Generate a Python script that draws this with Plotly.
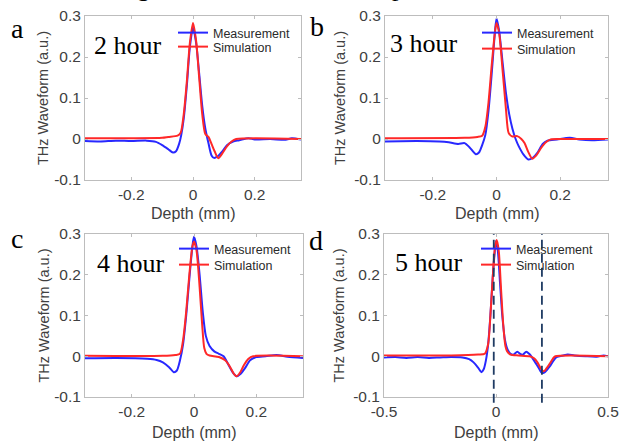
import plotly.graph_objects as go

# ---------------- data ----------------
a_meas_x = [-0.35, -0.30, -0.25, -0.20, -0.15, -0.12, -0.10, -0.08, -0.065, -0.055, -0.045, -0.038, -0.03, -0.02, -0.01, 0.0,
            0.01, 0.02, 0.03, 0.04, 0.05, 0.06, 0.068, 0.08, 0.095, 0.11, 0.13, 0.15, 0.18, 0.20, 0.25, 0.30, 0.32, 0.35]
a_meas_y = [-0.005, -0.006, -0.004, -0.005, -0.004, -0.007, -0.015, -0.025, -0.033, -0.030, -0.012, 0.010, 0.050, 0.130, 0.225, 0.272,
            0.235, 0.160, 0.080, 0.025, -0.010, -0.040, -0.046, -0.042, -0.030, -0.015, -0.006, -0.003, 0.002, -0.001, 0.000, -0.002, 0.002, -0.001]
a_sim_x = [-0.35, -0.20, -0.10, -0.08, -0.05, -0.04, -0.03, -0.02, -0.01, 0.0, 0.01, 0.02, 0.03, 0.04, 0.05, 0.06, 0.07,
           0.082, 0.095, 0.11, 0.125, 0.14, 0.35]
a_sim_y = [0.002, 0.002, 0.003, 0.005, 0.008, 0.015, 0.060, 0.140, 0.235, 0.283, 0.240, 0.150, 0.060, 0.012, 0.005, -0.012, -0.030,
           -0.047, -0.035, -0.018, -0.006, 0.000, 0.000]

b_meas_x = [-0.35, -0.25, -0.18, -0.15, -0.12, -0.10, -0.085, -0.065, -0.055, -0.045, -0.035, -0.025, -0.015, -0.005, 0.0,
            0.008, 0.02, 0.03, 0.04, 0.05, 0.06, 0.07, 0.085, 0.10, 0.115, 0.13, 0.145, 0.16, 0.19, 0.23, 0.26, 0.30, 0.35]
b_meas_y = [-0.006, -0.005, -0.006, -0.008, -0.012, -0.010, -0.020, -0.037, -0.033, -0.015, 0.010, 0.070, 0.160, 0.260, 0.294,
            0.265, 0.180, 0.110, 0.060, 0.025, 0.000, -0.018, -0.038, -0.050, -0.045, -0.032, -0.012, -0.004, -0.001, 0.003, -0.001, -0.003, -0.001]
b_sim_x = [-0.35, -0.10, -0.06, -0.045, -0.035, -0.025, -0.015, -0.005, 0.0, 0.008, 0.02, 0.03, 0.038, 0.05, 0.065, 0.078,
           0.088, 0.10, 0.112, 0.125, 0.14, 0.155, 0.17, 0.20, 0.35]
b_sim_y = [0.002, 0.003, 0.005, 0.008, 0.030, 0.090, 0.180, 0.260, 0.283, 0.260, 0.160, 0.070, 0.015, 0.006, 0.007, 0.000,
           -0.010, -0.032, -0.048, -0.040, -0.022, -0.008, -0.001, 0.000, 0.000]

c_meas_x = [-0.35, -0.25, -0.15, -0.12, -0.10, -0.08, -0.065, -0.055, -0.045, -0.035, -0.025, -0.015, -0.005, 0.0, 0.008,
            0.018, 0.028, 0.038, 0.05, 0.065, 0.08, 0.095, 0.11, 0.125, 0.137, 0.15, 0.165, 0.18, 0.20, 0.23, 0.265, 0.30, 0.35]
c_meas_y = [-0.005, -0.004, -0.006, -0.009, -0.015, -0.027, -0.039, -0.035, -0.010, 0.030, 0.100, 0.190, 0.270, 0.293, 0.270,
            0.200, 0.110, 0.050, 0.025, 0.012, 0.006, 0.000, -0.020, -0.040, -0.049, -0.043, -0.028, -0.010, -0.002, 0.000, 0.003, -0.001, -0.004]
c_sim_x = [-0.35, -0.10, -0.06, -0.045, -0.035, -0.025, -0.015, -0.005, 0.0, 0.008, 0.018, 0.026, 0.033, 0.04, 0.05, 0.08,
           0.10, 0.115, 0.128, 0.137, 0.148, 0.16, 0.175, 0.19, 0.35]
c_sim_y = [0.001, 0.001, 0.003, 0.006, 0.040, 0.110, 0.200, 0.270, 0.281, 0.260, 0.170, 0.080, 0.020, 0.006, 0.002, -0.002,
           -0.010, -0.025, -0.043, -0.049, -0.040, -0.022, -0.006, 0.000, 0.000]

d_meas_x = [-0.50, -0.45, -0.40, -0.35, -0.30, -0.25, -0.20, -0.15, -0.12, -0.10, -0.08, -0.065, -0.055, -0.045, -0.035, -0.025,
            -0.015, -0.005, 0.0, 0.008, 0.018, 0.028, 0.04, 0.052, 0.065, 0.078, 0.095, 0.11, 0.12, 0.135, 0.148, 0.16, 0.175,
            0.19, 0.205, 0.215, 0.228, 0.24, 0.255, 0.27, 0.30, 0.32, 0.35, 0.40, 0.45, 0.48, 0.50]
d_meas_y = [-0.003, -0.002, -0.004, -0.002, -0.004, -0.003, -0.002, -0.003, -0.007, -0.015, -0.028, -0.039, -0.032, -0.010, 0.030, 0.100,
            0.190, 0.260, 0.283, 0.260, 0.180, 0.100, 0.040, 0.016, 0.006, 0.004, 0.011, 0.005, 0.004, 0.011, 0.006, -0.002, -0.015,
            -0.028, -0.041, -0.040, -0.033, -0.025, -0.012, -0.002, 0.002, 0.004, 0.002, 0.000, -0.001, 0.002, 0.000]
d_sim_x = [-0.50, -0.20, -0.08, -0.05, -0.035, -0.025, -0.015, -0.005, 0.003, 0.012, 0.022, 0.032, 0.042, 0.05, 0.065, 0.10,
           0.15, 0.17, 0.185, 0.20, 0.213, 0.225, 0.24, 0.255, 0.265, 0.50]
d_sim_y = [0.002, 0.002, 0.004, 0.006, 0.030, 0.100, 0.190, 0.265, 0.285, 0.260, 0.170, 0.080, 0.025, 0.012, 0.004, 0.002,
           0.000, -0.005, -0.015, -0.030, -0.037, -0.030, -0.018, -0.005, 0.000, 0.000]
d_marker_depths = [-0.01, 0.205]

panel_letters = ["a", "b", "c", "d"]
panel_hours = ["2 hour", "3 hour", "4 hour", "5 hour"]
series_names = ["Measurement", "Simulation"]
y_tickvals = [-0.1, 0, 0.1, 0.2, 0.3]
y_ticktext = ["-0.1", "0", "0.1", "0.2", "0.3"]
x_tickvals_abc = [-0.2, 0, 0.2]
x_ticktext_abc = ["-0.2", "0", "0.2"]
x_tickvals_d = [-0.5, 0, 0.5]
x_ticktext_d = ["-0.5", "0", "0.5"]
x_title = "Depth (mm)"
y_title = "THz Waveform (a.u.)"

# ---------------- figure ----------------
W, H = 622, 441
def px_x(v): return v / W
def px_y(v): return 1 - v / H

BLUE = "rgb(40,40,255)"
RED = "rgb(255,40,40)"
SANS = "Arial, Liberation Sans, sans-serif"
SERIF = "Times New Roman, Liberation Serif, serif"

panels = [
    dict(mx=a_meas_x, my=a_meas_y, sx=a_sim_x, sy=a_sim_y, xr=[-0.35, 0.35], tv=x_tickvals_abc, tt=x_ticktext_abc,
         xd=[85, 301], yd=[16, 180], leg=(173, 18, 32), hour=(92, 45), letter=(17, 28), ytitle=43, xtitle=213),
    dict(mx=b_meas_x, my=b_meas_y, sx=b_sim_x, sy=b_sim_y, xr=[-0.35, 0.35], tv=x_tickvals_abc, tt=x_ticktext_abc,
         xd=[385, 608], yd=[16, 180], leg=(477, 18, 34), hour=(388, 43), letter=(317, 27), ytitle=340, xtitle=213),
    dict(mx=c_meas_x, my=c_meas_y, sx=c_sim_x, sy=c_sim_y, xr=[-0.35, 0.35], tv=x_tickvals_abc, tt=x_ticktext_abc,
         xd=[85, 303], yd=[234, 397], leg=(174, 234, 250), hour=(95, 263), letter=(17, 238), ytitle=43, xtitle=432),
    dict(mx=d_meas_x, my=d_meas_y, sx=d_sim_x, sy=d_sim_y, xr=[-0.5, 0.5], tv=x_tickvals_d, tt=x_ticktext_d,
         xd=[384, 608], yd=[234, 397], leg=(476, 234, 250), hour=(393, 262), letter=(316, 240), ytitle=338, xtitle=432),
]

fig = go.Figure()
annotations = []
layout = {}
for i, p in enumerate(panels):
    n = "" if i == 0 else str(i + 1)
    xa, ya = "x" + n, "y" + n
    leg1 = "legend" + ("" if i == 0 else str(2 * i + 1))
    leg2 = "legend" + str(2 * i + 2)
    fig.add_trace(go.Scatter(x=p["mx"], y=p["my"], name=series_names[0], mode="lines",
                             line=dict(color=BLUE, width=2, shape="spline", smoothing=0.7),
                             xaxis=xa, yaxis=ya, legend=leg1))
    fig.add_trace(go.Scatter(x=p["sx"], y=p["sy"], name=series_names[1], mode="lines",
                             line=dict(color=RED, width=2, shape="spline", smoothing=0.7),
                             xaxis=xa, yaxis=ya, legend=leg2))
    axstyle = dict(showline=True, linecolor="#bdbdbd", linewidth=1, mirror="ticks", ticks="inside",
                   ticklen=3, tickcolor="#bdbdbd", showgrid=False, zeroline=False, automargin=False,
                   tickfont=dict(family=SANS, size=15.5, color="#404040"))
    layout["xaxis" + n] = dict(domain=[px_x(p["xd"][0]), px_x(p["xd"][1])], range=p["xr"], anchor=ya,
                               tickvals=p["tv"], ticktext=p["tt"], **axstyle)
    layout["yaxis" + n] = dict(domain=[px_y(p["yd"][1]), px_y(p["yd"][0])], range=[-0.1, 0.3], anchor=xa,
                               tickvals=y_tickvals, ticktext=y_ticktext, **axstyle)
    for leg, top in ((leg1, p["leg"][1]), (leg2, p["leg"][2])):
        layout[leg] = dict(x=px_x(p["leg"][0]), y=px_y(top), xanchor="left", yanchor="top",
                           bgcolor="rgba(0,0,0,0)", font=dict(family=SANS, size=12.5, color="#2a2a2a"),
                           itemwidth=30)
    cx = (p["xd"][0] + p["xd"][1]) / 2
    cy = (p["yd"][0] + p["yd"][1]) / 2
    annotations.append(dict(text=x_title, x=px_x(cx), y=px_y(p["xtitle"]), xref="paper", yref="paper",
                            showarrow=False, xanchor="center", yanchor="middle",
                            font=dict(family=SANS, size=16, color="#404040")))
    annotations.append(dict(text=y_title, x=px_x(p["ytitle"]), y=px_y(cy), xref="paper", yref="paper",
                            showarrow=False, textangle=-90, xanchor="center", yanchor="middle",
                            font=dict(family=SANS, size=14.5, color="#404040")))
    annotations.append(dict(text=panel_hours[i], x=px_x(p["hour"][0]), y=px_y(p["hour"][1]), xref="paper", yref="paper",
                            showarrow=False, xanchor="left", yanchor="middle",
                            font=dict(family=SERIF, size=26, color="black")))
    annotations.append(dict(text=panel_letters[i], x=px_x(p["letter"][0]), y=px_y(p["letter"][1]), xref="paper", yref="paper",
                            showarrow=False, xanchor="center", yanchor="middle",
                            font=dict(family=SERIF, size=28, color="black")))

# caption fragments cut off at the top
annotations.append(dict(text="g", x=px_x(143), y=px_y(-13), xref="paper", yref="paper", showarrow=False,
                        xanchor="center", yanchor="middle", font=dict(family=SERIF, size=26, color="black")))
annotations.append(dict(text="p", x=px_x(398), y=px_y(-13), xref="paper", yref="paper", showarrow=False,
                        xanchor="center", yanchor="middle", font=dict(family=SERIF, size=26, color="black")))

shapes = []
for xv in d_marker_depths:
    shapes.append(dict(type="line", xref="x4", yref="y4 domain", x0=xv, x1=xv, y0=-0.035, y1=1.0,
                       line=dict(color="#1f3b63", width=1.8, dash="9px,5px")))

fig.update_layout(width=W, height=H, margin=dict(l=0, r=0, t=0, b=0), paper_bgcolor="white",
                  plot_bgcolor="white", annotations=annotations, shapes=shapes, showlegend=True, **layout)
fig.write_html("out.html")
